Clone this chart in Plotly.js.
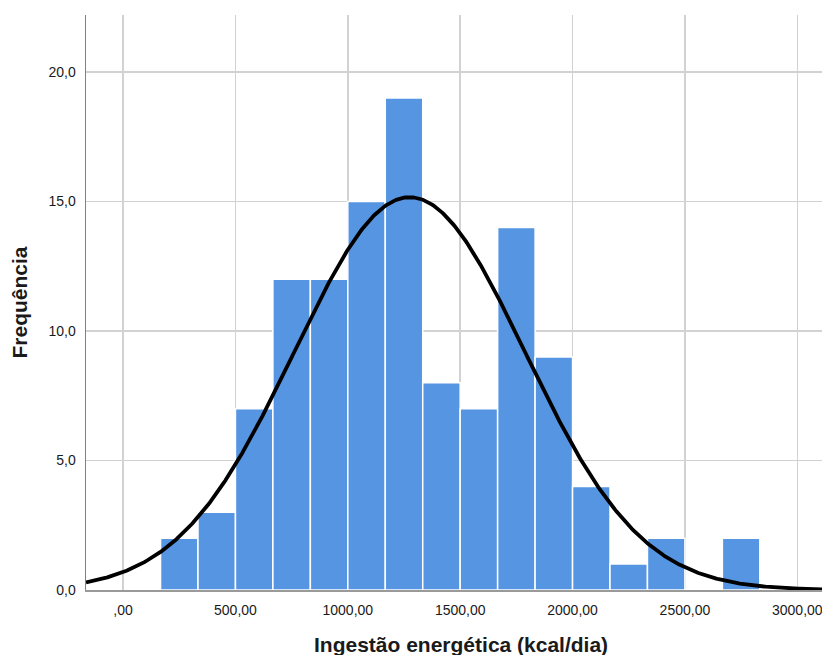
<!DOCTYPE html>
<html>
<head>
<meta charset="utf-8">
<script src="https://cdn.plot.ly/plotly-3.0.1.min.js"></script>
<style>html,body{margin:0;padding:0;background:#fff;}#chart{width:822px;height:655px;}</style>
</head>
<body>
<div id="chart"></div>
<script>
// Histogram bins (lower edges, kcal/dia) and counts
const binLower = [166.67, 333.33, 500, 666.67, 833.33, 1000, 1166.67, 1333.33, 1500, 1666.67, 1833.33, 2000, 2166.67, 2333.33, 2500, 2666.67];
const binWidth = 166.67;
const counts = [2, 3, 7, 12, 12, 15, 19, 8, 7, 14, 9, 4, 1, 2, 0, 2];

// Fitted normal curve parameters
const meanVal = 1275;
const sdVal = 513;

// Tick labels
const xTickVals = [0, 500, 1000, 1500, 2000, 2500, 3000];
const xTickText = [',00', '500,00', '1000,00', '1500,00', '2000,00', '2500,00', '3000,00'];
const yTickVals = [0, 5, 10, 15, 20];
const yTickText = ['0,0', '5,0', '10,0', '15,0', '20,0'];

const xTitle = 'Ingestão energética (kcal/dia)';
const yTitle = 'Frequência';

const xRange = [-165, 3110];
const yRange = [0, 22.2];

const n = counts.reduce((a, b) => a + b, 0);
const centers = binLower.map(v => v + binWidth / 2);

const curveX = [];
const curveY = [];
for (let x = xRange[0]; x <= xRange[1]; x += 5) {
  const z = (x - meanVal) / sdVal;
  curveX.push(x);
  curveY.push(n * binWidth / (sdVal * Math.sqrt(2 * Math.PI)) * Math.exp(-0.5 * z * z));
}

const traces = [
  {
    type: 'bar',
    x: centers,
    y: counts,
    width: binWidth,
    marker: {color: '#5595e2', line: {color: '#ffffff', width: 1.5}},
    hoverinfo: 'x+y'
  },
  {
    type: 'scatter',
    mode: 'lines',
    x: curveX,
    y: curveY,
    line: {color: '#000000', width: 3.8},
    hoverinfo: 'skip'
  }
];

const layout = {
  width: 822,
  height: 655,
  margin: {l: 86, r: 0, t: 15, b: 65},
  paper_bgcolor: '#ffffff',
  plot_bgcolor: '#ffffff',
  showlegend: false,
  bargap: 0,
  font: {family: 'Liberation Sans, Arial, sans-serif', color: '#1a1a1a'},
  xaxis: {
    range: xRange,
    tickvals: xTickVals,
    ticktext: xTickText,
    tickfont: {size: 14, color: '#1a1a1a'},
    ticklabeloverflow: 'allow',
    showgrid: true,
    gridcolor: '#d2d2d2',
    gridwidth: 1.5,
    zeroline: false,
    showline: true,
    linecolor: '#9a9a9a',
    linewidth: 1.5,
    ticks: '',
    ticklabelstandoff: 7
  },
  yaxis: {
    range: yRange,
    tickvals: yTickVals,
    ticktext: yTickText,
    tickfont: {size: 14, color: '#1a1a1a'},
    showgrid: true,
    gridcolor: '#d2d2d2',
    gridwidth: 1.5,
    zeroline: false,
    showline: true,
    linecolor: '#808080',
    linewidth: 1.5,
    ticks: '',
    ticklabelstandoff: 6,
    title: {text: yTitle, font: {size: 21, color: '#1a1a1a', weight: 'bold'}, standoff: 15}
  },
  annotations: [
    {
      text: xTitle,
      xref: 'paper', yref: 'paper',
      x: 0.5095, y: -0.0715,
      xanchor: 'center', yanchor: 'top',
      showarrow: false,
      font: {size: 21, color: '#1a1a1a', weight: 'bold'}
    }
  ]
};

Plotly.newPlot('chart', traces, layout, {displayModeBar: false, staticPlot: true});
</script>
</body>
</html>
